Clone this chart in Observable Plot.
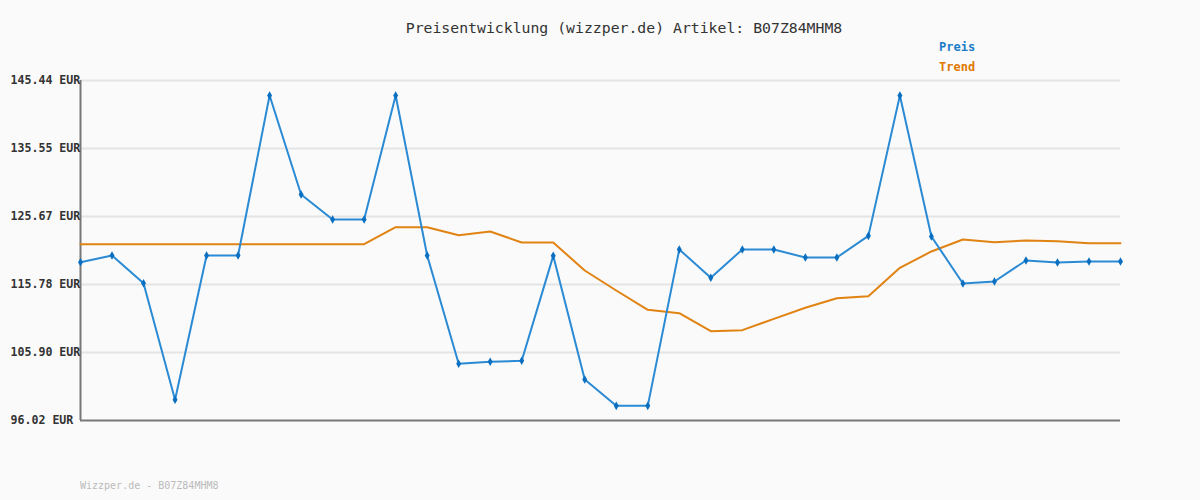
<!DOCTYPE html>
<html><head><meta charset="utf-8">
<script src="https://cdn.jsdelivr.net/npm/d3@7"></script>
<script src="https://cdn.jsdelivr.net/npm/@observablehq/plot@0.6"></script>
<style>
body{margin:0;background:#fafafa;}
#wrap{position:relative;width:1200px;height:500px;font-family:"DejaVu Sans Mono",monospace;background:#fafafa;overflow:hidden;}
#title{position:absolute;left:0;width:1248px;top:19px;text-align:center;font-size:14.8px;color:#333;}
.leg{position:absolute;left:939px;font-size:12px;font-weight:bold;}
#footer{position:absolute;left:80px;top:480px;font-size:10px;color:#bbb;}
#chart{position:absolute;left:0;top:0;}
</style></head><body>
<div id="wrap">
<div id="chart"></div>
<div id="title">Preisentwicklung (wizzper.de) Artikel: B07Z84MHM8</div>
<div class="leg" style="top:40px;color:#1a7cc8">Preis</div>
<div class="leg" style="top:60px;color:#e07800">Trend</div>
<div id="footer">Wizzper.de - B07Z84MHM8</div>
</div>
<script>
const preis = [119.03,120.00,115.98,99.03,120.00,120.00,143.26,128.87,125.24,125.24,
  143.26,120.00,104.26,104.55,104.70,119.95,101.98,98.15,98.15,120.88,
  116.76,120.88,120.88,119.71,119.71,122.86,143.26,122.77,115.93,116.22,
  119.28,118.99,119.13,119.13];
const trend = [121.65,121.65,121.65,121.65,121.65,121.65,121.65,121.65,121.65,121.65,
  124.12,124.12,122.96,123.49,121.89,121.89,117.82,114.92,112.11,111.62,
  109.00,109.15,110.80,112.40,113.80,114.09,118.21,120.59,122.33,121.94,
  122.19,122.09,121.80,121.80];
const yTicks = [96.02,105.90,115.78,125.67,135.55,145.44];

const preisRows = preis.map((v,i)=>({i,v}));
const trendRows = trend.map((v,i)=>({i,v}));

const chart = Plot.plot({
  width:1200, height:500,
  marginLeft:80, marginRight:80, marginTop:80, marginBottom:80,
  x:{domain:[0,preis.length-1], axis:null},
  y:{domain:[yTicks[0], yTicks[yTicks.length-1]], axis:null},
  style:{background:"transparent", fontFamily:"DejaVu Sans Mono, monospace"},
  marks:[
    Plot.ruleY(yTicks.slice(1), {stroke:"#e4e4e4", strokeWidth:2}),
    Plot.ruleY([yTicks[0]], {stroke:"#777", strokeWidth:2}),
    Plot.ruleX([0], {stroke:"#777", strokeWidth:2}),
    Plot.line(trendRows, {x:"i", y:"v", stroke:"#e08312", strokeWidth:2}),
    Plot.line(preisRows, {x:"i", y:"v", stroke:"#2a8ad4", strokeWidth:2}),
    Plot.dot(preisRows, {x:"i", y:"v", symbol:"diamond", r:2.6, fill:"#0a6fc0", stroke:"none"}),
    Plot.text(yTicks, {y:d=>d, frameAnchor:"left", textAnchor:"start", dx:-70,
      text:d=>d.toFixed(2)+" EUR", fontSize:11.6, fontWeight:"bold", fill:"#333"})
  ]
});
document.getElementById("chart").appendChild(chart);
</script>
</body></html>
